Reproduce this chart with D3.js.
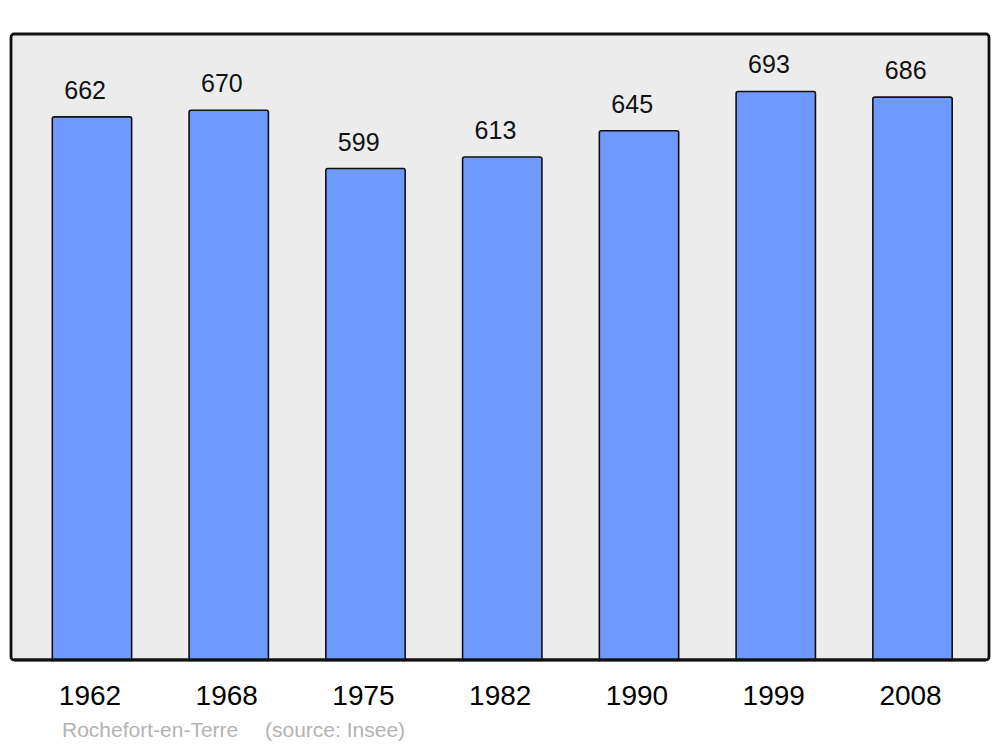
<!DOCTYPE html>
<html>
<head>
<meta charset="utf-8">
<script src="https://cdn.jsdelivr.net/npm/d3@7"></script>
<style>
  html, body { margin: 0; padding: 0; background: #ffffff; }
  svg { display: block; font-family: "Liberation Sans", Arial, sans-serif; }
</style>
</head>
<body>
<svg id="chart" width="1000" height="747"></svg>
<script>
const years = ["1962", "1968", "1975", "1982", "1990", "1999", "2008"];
const population = [662, 670, 599, 613, 645, 693, 686];
const placeName = "Rochefort-en-Terre";
const sourceText = "(source: Insee)";

const svg = d3.select("#chart");

const frame = { left: 11, right: 989, top: 34, bottom: 660 };

const x = d3.scaleBand()
  .domain(years)
  .range([23.6, 980.9])
  .paddingInner(0.42)
  .paddingOuter(0.21);

const y = d3.scaleLinear()
  .domain([0, 763])
  .range([frame.bottom, frame.top]);

// background frame
svg.append("rect")
  .attr("x", frame.left)
  .attr("y", frame.top)
  .attr("width", frame.right - frame.left)
  .attr("height", frame.bottom - frame.top)
  .attr("rx", 3).attr("ry", 3)
  .attr("fill", "#ececec")
  .attr("stroke", "none");

const data = years.map((yr, i) => ({ year: yr, value: population[i] }));

// bars
svg.append("g").selectAll("rect")
  .data(data)
  .join("rect")
  .attr("x", d => x(d.year))
  .attr("y", d => y(d.value))
  .attr("width", x.bandwidth())
  .attr("height", d => y(0) - y(d.value) + 4)
  .attr("rx", 2).attr("ry", 2)
  .attr("fill", "#7099ff")
  .attr("stroke", "#111")
  .attr("stroke-width", 1.6);

// frame border on top
svg.append("rect")
  .attr("x", frame.left)
  .attr("y", frame.top)
  .attr("width", frame.right - frame.left)
  .attr("height", frame.bottom - frame.top)
  .attr("rx", 3).attr("ry", 3)
  .attr("fill", "none")
  .attr("stroke", "#111")
  .attr("stroke-width", 2.8);

// cover the bar overflow below the frame
svg.append("rect")
  .attr("x", 0).attr("y", frame.bottom + 1.4)
  .attr("width", 1000).attr("height", 10)
  .attr("fill", "#ffffff");
svg.append("line")
  .attr("x1", frame.left + 3).attr("x2", frame.right - 3)
  .attr("y1", frame.bottom).attr("y2", frame.bottom)
  .attr("stroke", "#111").attr("stroke-width", 2.8);

// value labels
svg.append("g").selectAll("text")
  .data(data)
  .join("text")
  .attr("x", d => x(d.year) + 12)
  .attr("y", d => y(d.value) - 18)
  .attr("text-anchor", "start")
  .attr("font-size", 25)
  .attr("fill", "#111")
  .text(d => d.value);

// x axis labels
const xAxis = d3.axisBottom(x).tickSize(0).tickPadding(0);
const gx = svg.append("g")
  .attr("transform", `translate(-2, 0)`)
  .call(xAxis);
gx.select(".domain").remove();
gx.selectAll("text")
  .attr("y", 705)
  .attr("dy", 0)
  .attr("font-size", 28)
  .attr("font-family", "'Liberation Sans', Arial, sans-serif")
  .attr("fill", "#000");

// caption
svg.append("text")
  .attr("x", 62).attr("y", 737)
  .attr("font-size", 21)
  .attr("fill", "#b3b3b3")
  .text(placeName);
svg.append("text")
  .attr("x", 265).attr("y", 737)
  .attr("font-size", 21)
  .attr("fill", "#b3b3b3")
  .text(sourceText);
</script>
</body>
</html>
